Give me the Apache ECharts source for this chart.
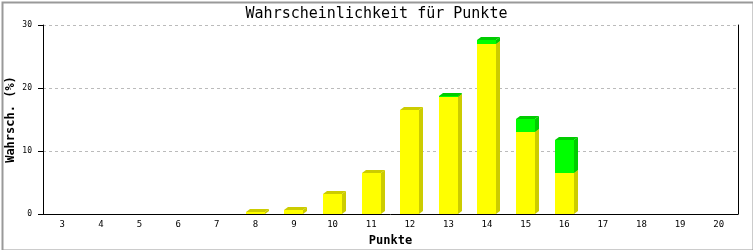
<!DOCTYPE html>
<html><head><meta charset="utf-8">
<script src="https://cdn.jsdelivr.net/npm/echarts@6/dist/echarts.min.js"></script>
<style>html,body{margin:0;padding:0;background:#fff}#c{width:753px;height:250px}</style>
</head><body><div id="c"></div>
<script>
var categories = ['3','4','5','6','7','8','9','10','11','12','13','14','15','16','17','18','19','20'];
var yellowValues = [0,0,0,0,0,0.3,0.7,3.2,6.5,16.5,18.6,27.0,13.0,6.5,0,0,0,0];
var greenValues  = [0,0,0,0,0,0,0,0,0,0,0.15,0.6,2.1,5.2,0,0,0,0];
var yTicks = [0,10,20,30];

var DX = 4, DY = 3;
function makeRender(front, dark, baseArr) {
  return function (params, api) {
    var idx = api.value(0);
    var v = api.value(1);
    if (!v) return null;
    var base = baseArr ? baseArr[idx] : 0;
    var pb = api.coord([idx, base]);
    var pt = api.coord([idx, base + v]);
    var w = api.size([1, 0])[0] * 0.5;
    var x0 = Math.round(pb[0] - w / 2), x1 = x0 + Math.round(w);
    var yb = Math.round(pb[1]), yt = Math.round(pt[1]);
    return {
      type: 'group',
      children: [
        { type: 'polygon', shape: { points: [[x1, yb], [x1, yt], [x1 + DX, yt - DY], [x1 + DX, yb - DY]] }, style: { fill: dark } },
        { type: 'polygon', shape: { points: [[x0, yt], [x0 + DX, yt - DY], [x1 + DX, yt - DY], [x1, yt]] }, style: { fill: dark } },
        { type: 'rect', shape: { x: x0, y: yt, width: x1 - x0, height: yb - yt }, style: { fill: front } }
      ]
    };
  };
}

var chart = echarts.init(document.getElementById('c'), null, { renderer: 'canvas' });
var monoFont = '"DejaVu Sans Mono", "Liberation Mono", monospace';
chart.setOption({
  animation: false,
  backgroundColor: '#fff',
  title: {
    text: 'Wahrscheinlichkeit für Punkte',
    left: 'center', top: 2,
    textStyle: { fontFamily: monoFont, fontSize: 15, fontWeight: 'normal', color: '#000' }
  },
  grid: { left: 43, right: 15, top: 25, bottom: 36, containLabel: false, outerBoundsMode: 'none' },
  xAxis: {
    type: 'category', data: categories, boundaryGap: true,
    name: 'Punkte', nameLocation: 'middle', nameGap: 21, nameMoveOverlap: false,
    nameTextStyle: { fontFamily: monoFont, fontSize: 12, fontWeight: 'bold', color: '#000' },
    axisLine: { lineStyle: { color: '#000', width: 1 } },
    axisTick: { show: false },
    axisLabel: { fontFamily: monoFont, fontSize: 9, color: '#000', margin: 6 },
    splitLine: { show: false }
  },
  yAxis: [{
    type: 'value', min: 0, max: 30, interval: 10,
    name: 'Wahrsch. (%)', nameLocation: 'middle', nameGap: 26, nameMoveOverlap: false,
    nameTextStyle: { fontFamily: monoFont, fontSize: 12, fontWeight: 'bold', color: '#000' },
    axisLine: { show: true, lineStyle: { color: '#000', width: 1 } },
    axisTick: { show: true, length: 5, lineStyle: { color: '#000' } },
    axisLabel: { fontFamily: monoFont, fontSize: 8, color: '#000', margin: 11,
      formatter: function (v) { return yTicks.indexOf(v) >= 0 ? String(v) : ''; } },
    splitLine: { show: true, lineStyle: { color: '#bbb', type: [3, 3], width: 1 } }
  }, {
    type: 'value', min: 0, max: 30, interval: 10, position: 'right',
    axisLine: { show: true, lineStyle: { color: '#000', width: 1 } },
    axisTick: { show: false }, axisLabel: { show: false }, splitLine: { show: false }
  }],
  series: [{
    type: 'custom',
    renderItem: makeRender('#ffff00', '#cccc00', null),
    data: yellowValues.map(function (v, i) { return [i, v]; }),
    encode: { x: 0, y: 1 }, z: 2
  }, {
    type: 'custom',
    renderItem: makeRender('#00ff00', '#00cc00', yellowValues),
    data: greenValues.map(function (v, i) { return [i, v]; }),
    encode: { x: 0, y: 1 }, z: 3
  }],
  graphic: [{
    type: 'rect', left: 0, top: 0, silent: true, z: 100,
    shape: { x: 1, y: 1, width: 751, height: 248 },
    style: { fill: 'none', stroke: '#999', lineWidth: 2 }
  }]
});
</script></body></html>
